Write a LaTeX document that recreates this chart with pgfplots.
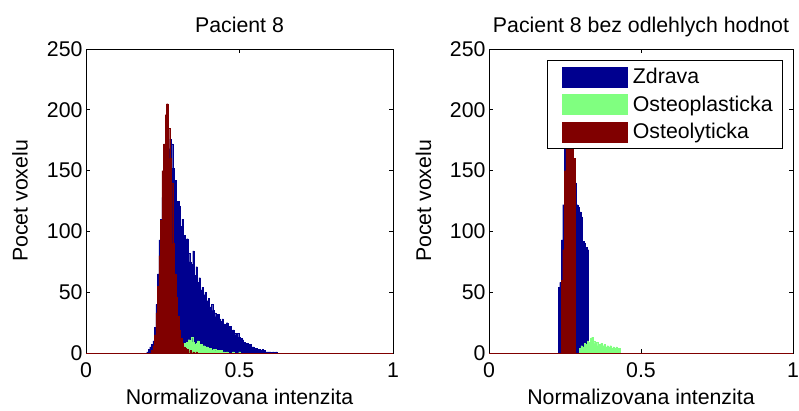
\documentclass[border=0pt]{standalone}
\usepackage{fontspec}
\setmainfont{Liberation Sans}
\usepackage{pgfplots}
\pgfplotsset{compat=1.18}
\definecolor{zdr}{RGB}{0,0,143}
\definecolor{ost}{RGB}{128,255,128}
\definecolor{oly}{RGB}{128,0,0}
\newcommand{\ff}{\fontsize{21.3bp}{25bp}\selectfont}
\pgfplotsset{
  hist/.style={ybar, bar width=0.005, bar shift=0pt, draw=#1, fill=#1, line width=0.2bp},
  myaxis/.style={scale only axis, height=304bp, xmin=0, xmax=1, ymin=0, ymax=250,
    xtick={0,0.5,1}, ytick={0,50,...,250},
    /pgf/number format/assume math mode=true,
    tick align=inside, major tick length=4bp,
    axis line style={line width=0.9bp},
    major tick style={line width=0.8bp, black},
    tick label style={font=\ff},
    xticklabel style={yshift=-6bp},
    xlabel={Normalizovana intenzita}, ylabel={Pocet voxelu},
    every axis x label/.style={at={(axis description cs:0.5,-0.171)}, anchor=base, font=\ff},
    every axis y label/.style={at={(axis description cs:-0.19,0.5)}, anchor=base, rotate=90, font=\ff},
    every axis title/.style={at={(axis description cs:0.5,1.053)}, anchor=base, font=\ff},
  }
}
\begin{document}
\begin{tikzpicture}[x=1bp,y=1bp]
\useasboundingbox (0,0) rectangle (799,410);
% ---------------- left
\begin{axis}[myaxis, width=307bp, at={(86bp,57bp)}, anchor=south west, title={Pacient 8}]
\addplot[hist=zdr] coordinates {
(0.200,1)(0.205,3)(0.210,5)(0.215,7)(0.220,10)(0.225,21)(0.230,40)(0.235,65)(0.240,93)(0.245,110)
(0.250,128)(0.255,140)(0.260,150)(0.265,160)(0.270,168)(0.275,176)(0.280,172)(0.285,152)(0.290,142)(0.295,118)
(0.300,125)(0.305,121)(0.310,104)(0.315,110)(0.320,97)(0.325,90)(0.330,94)(0.335,82)(0.340,75)(0.345,73)
(0.350,84)(0.355,64)(0.360,71)(0.365,58)(0.370,62)(0.375,52)(0.380,54)(0.385,48)(0.390,50)(0.395,43)
(0.400,45)(0.405,38)(0.410,40)(0.415,35)(0.420,33)(0.425,30)(0.430,32)(0.435,28)(0.440,26)(0.445,28)
(0.450,24)(0.455,23)(0.460,25)(0.465,21)(0.470,22)(0.475,18)(0.480,19)(0.485,16)(0.490,15)(0.495,16)
(0.500,13)(0.505,12)(0.510,11)(0.515,9)(0.520,8)(0.525,8)(0.530,6)(0.535,7)(0.540,5)(0.545,5)
(0.550,4)(0.555,4)(0.560,3)(0.565,3)(0.570,2)(0.575,3)(0.580,2)(0.585,1)(0.590,1)(0.595,1)
(0.600,1)(0.610,1)(0.620,1)
};
\addplot[hist=ost] coordinates {
(0.305,2)(0.310,4)(0.315,6)(0.320,8)(0.325,7)(0.330,9)(0.335,11)(0.340,10)(0.345,13)(0.350,9)
(0.355,7)(0.360,8)(0.365,10)(0.370,6)(0.375,7)(0.380,5)(0.385,6)(0.390,4)(0.395,5)(0.400,3)
(0.405,4)(0.410,2)(0.415,3)(0.420,3)(0.425,2)(0.430,2)(0.435,1)(0.440,2)(0.450,1)(0.460,1)
(0.480,1)(0.500,1)
};
\addplot[hist=oly] coordinates {
(0.215,2)(0.220,6)(0.225,15)(0.230,33)(0.235,55)(0.240,80)(0.245,109)(0.250,150)(0.255,172)(0.260,196)
(0.265,205)(0.270,185)(0.275,160)(0.280,140)(0.285,90)(0.290,65)(0.295,46)(0.300,30)(0.305,19)(0.310,12)
(0.315,8)(0.320,5)(0.325,4)(0.330,3)(0.340,2)(0.350,1)(0.360,1)
};
\addplot[oly, line width=0.9bp, forget plot] coordinates {(0,0) (1,0)};
\end{axis}
% ---------------- right
\begin{axis}[myaxis, width=304bp, at={(489bp,57bp)}, anchor=south west,
  title={Pacient 8 bez odlehlych hodnot},
  legend image code/.code={\path (0bp,0bp) (75bp,0bp); \fill[#1] (10bp,-10bp) rectangle (75bp,10bp);},
  legend cell align=left,
  legend style={at={(axis description cs:1,1)}, anchor=north east, xshift=-10bp, yshift=-11bp,
    font=\ff, draw=black, line width=0.8bp, fill=white, row sep=4.5bp,
    inner xsep=4bp, inner ysep=5bp,
    nodes={inner ysep=3bp, inner xsep=6bp}},
]
\addplot[hist=zdr] coordinates {
(0.230,54)(0.235,58)(0.240,93)(0.245,122)(0.250,180)(0.255,190)(0.260,200)(0.265,205)(0.270,190)(0.275,165)
(0.280,155)(0.285,140)(0.290,122)(0.295,120)(0.300,116)(0.305,112)(0.310,92)(0.315,90)(0.320,87)(0.325,85)
};
\addlegendentry{Zdrava}
\addplot[hist=ost] coordinates {
(0.300,4)(0.305,6)(0.310,5)(0.315,8)(0.320,7)(0.325,10)(0.330,9)(0.335,12)(0.340,13)(0.345,10)
(0.350,8)(0.355,9)(0.360,6)(0.365,7)(0.370,8)(0.375,6)(0.380,7)(0.385,5)(0.390,6)(0.395,5)
(0.400,6)(0.405,4)(0.410,5)(0.415,4)(0.420,5)(0.425,4)(0.430,4)
};
\addlegendentry{Osteoplasticka}
\addplot[hist=oly] coordinates {
(0.240,60)(0.245,85)(0.250,150)(0.255,185)(0.260,205)(0.265,200)(0.270,180)(0.275,170)(0.280,160)
};
\addlegendentry{Osteolyticka}
\addplot[oly, line width=0.9bp, forget plot] coordinates {(0,0) (1,0)};
\end{axis}
\end{tikzpicture}
\end{document}
